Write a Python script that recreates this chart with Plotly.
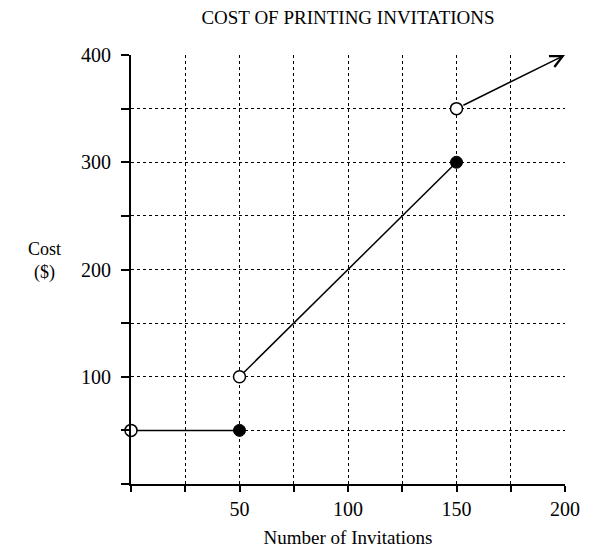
import plotly.graph_objects as go

# Data
title_text = "COST OF PRINTING INVITATIONS"
x_title = "Number of Invitations"
y_title = "Cost<br>($)"

seg1_x = [0, 50]
seg1_y = [50, 50]
seg2_x = [50, 150]
seg2_y = [100, 300]
seg3_x = [150, 200]
seg3_y = [350, 400]

open_x = [0, 50, 150]
open_y = [50, 100, 350]
closed_x = [50, 150]
closed_y = [50, 300]

x_tickvals = [0, 25, 50, 75, 100, 125, 150, 175, 200]
x_ticktext = ["", "", "50", "", "100", "", "150", "", "200"]
y_tickvals = [0, 50, 100, 150, 200, 250, 300, 350, 400]
y_ticktext = ["", "", "100", "", "200", "", "300", "", "400"]

FONT = "Liberation Serif"
line_style = dict(color="black", width=1.5)

W, H = 589, 544  # page body has an 8px margin

fig = go.Figure()
fig.add_trace(go.Scatter(x=seg1_x, y=seg1_y, mode="lines", line=line_style,
                         hoverinfo="skip", cliponaxis=False))
fig.add_trace(go.Scatter(x=seg2_x, y=seg2_y, mode="lines", line=line_style,
                         hoverinfo="skip", cliponaxis=False))
fig.add_trace(go.Scatter(x=open_x, y=open_y, mode="markers",
                         marker=dict(symbol="circle", size=12, color="white",
                                     line=dict(color="black", width=1.5)),
                         cliponaxis=False))
fig.add_trace(go.Scatter(x=closed_x, y=closed_y, mode="markers",
                         marker=dict(symbol="circle", size=12, color="black",
                                     line=dict(color="black", width=1)),
                         cliponaxis=False))

# arrow segment
fig.add_annotation(x=seg3_x[1], y=seg3_y[1], ax=seg3_x[0], ay=seg3_y[0],
                   xref="x", yref="y", axref="x", ayref="y",
                   showarrow=True, text="", arrowhead=5, arrowsize=1.6,
                   arrowwidth=1.5, arrowcolor="black", startstandoff=6)

fig.add_annotation(text=y_title, xref="paper", yref="paper", x=-0.2, y=0.52,
                   showarrow=False, xanchor="center", yanchor="middle",
                   font=dict(family=FONT, size=18, color="black"))

grid_common = dict(showgrid=True, gridcolor="black", gridwidth=1.4,
                   griddash="3px,3px", zeroline=False, showline=True,
                   linecolor="black", linewidth=2, ticks="outside",
                   tickcolor="black", tickwidth=1.5,
                   automargin=False,
                   tickfont=dict(family=FONT, size=20, color="black"))

fig.update_xaxes(range=[0, 200], tickmode="array", tickvals=x_tickvals,
                 ticktext=x_ticktext, ticklen=6,
                 title=dict(text=x_title, standoff=12,
                            font=dict(family=FONT, size=19, color="black")),
                 **grid_common)
fig.update_yaxes(range=[0, 400], tickmode="array", tickvals=y_tickvals,
                 ticktext=y_ticktext, ticklen=8, ticklabelstandoff=6,
                 **grid_common)

fig.update_layout(
    width=W, height=H,
    margin=dict(l=123, r=32, t=47, b=68),
    paper_bgcolor="white", plot_bgcolor="white",
    showlegend=False,
    title=dict(text=title_text, x=0.5, xref="paper", y=1 - 9 / H,
               yanchor="middle", xanchor="center",
               font=dict(family=FONT, size=19, color="black")),
)

fig.write_html("out.html")
